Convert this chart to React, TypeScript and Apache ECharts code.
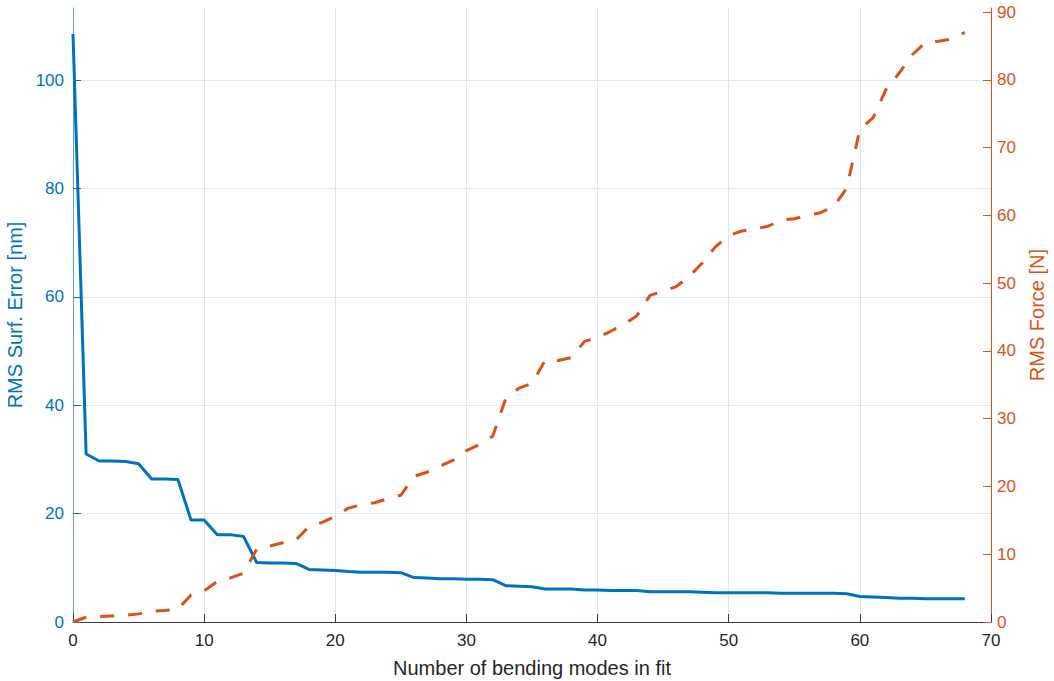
import React, { useEffect, useRef } from "react";
import * as echarts from "echarts";

const modes = [
  0, 1, 2, 3, 4, 5, 6, 7, 8, 9, 10, 11, 12, 13, 14, 15, 16, 17, 18, 19, 20,
  21, 22, 23, 24, 25, 26, 27, 28, 29, 30, 31, 32, 33, 34, 35, 36, 37, 38, 39,
  40, 41, 42, 43, 44, 45, 46, 47, 48, 49, 50, 51, 52, 53, 54, 55, 56, 57, 58,
  59, 60, 61, 62, 63, 64, 65, 66, 67, 68,
];

const rmsSurfError = [
  108.5, 31.0, 29.7, 29.7, 29.6, 29.2, 26.4, 26.4, 26.3, 18.8, 18.8, 16.1,
  16.1, 15.8, 11.0, 10.9, 10.9, 10.8, 9.7, 9.6, 9.5, 9.3, 9.2, 9.2, 9.2, 9.1,
  8.2, 8.1, 8.0, 8.0, 7.9, 7.9, 7.8, 6.7, 6.6, 6.5, 6.1, 6.1, 6.1, 5.9, 5.9,
  5.8, 5.8, 5.8, 5.6, 5.6, 5.6, 5.6, 5.5, 5.4, 5.4, 5.4, 5.4, 5.4, 5.3, 5.3,
  5.3, 5.3, 5.3, 5.2, 4.7, 4.6, 4.5, 4.4, 4.4, 4.3, 4.3, 4.3, 4.3,
];

const rmsForce = [
  0, 0.7, 0.8, 0.9, 1.0, 1.2, 1.6, 1.7, 1.9, 4.0, 4.6, 6.0, 6.5, 7.2, 10.7,
  11.2, 11.7, 12.1, 14.1, 14.7, 15.6, 16.8, 17.3, 17.6, 18.2, 18.7, 21.5, 22.1,
  23.0, 23.9, 25.3, 26.2, 27.4, 33.0, 34.5, 35.2, 38.6, 38.6, 39.0, 41.4, 42.0,
  42.9, 43.9, 45.2, 48.2, 48.8, 49.5, 51.0, 53.0, 55.4, 57.0, 57.7, 58.0, 58.4,
  59.3, 59.5, 60.0, 60.4, 61.3, 64.0, 72.7, 74.4, 78.6, 81.0, 83.7, 85.5, 85.7,
  86.0, 87.0,
];

const xTicks = [0, 10, 20, 30, 40, 50, 60, 70];
const leftTicks = [0, 20, 40, 60, 80, 100];
const rightTicks = [0, 10, 20, 30, 40, 50, 60, 70, 80, 90];

const FONT = "'Liberation Sans', Arial, Helvetica, sans-serif";
const BLUE = "#0072BD";
const ORANGE = "#D95319";

export default function App() {
  const ref = useRef<HTMLDivElement>(null);

  useEffect(() => {
    if (!ref.current) return;
    const chart = echarts.init(ref.current, null, { renderer: "svg" });
    chart.setOption({
      animation: false,
      backgroundColor: "#ffffff",
      grid: {
        left: 73,
        right: 63,
        top: 8,
        bottom: 59,
        containLabel: false,
        outerBoundsMode: "none",
      },
      xAxis: {
        type: "value",
        min: xTicks[0],
        max: xTicks[xTicks.length - 1],
        interval: 10,
        name: "Number of bending modes in fit",
        nameLocation: "middle",
        nameGap: 36,
        nameTextStyle: { color: "#262626", fontSize: 20, fontFamily: FONT },
        axisLine: { show: true, onZero: false, lineStyle: { color: "#3a3a3a", width: 1 } },
        axisTick: { show: true, inside: true, length: 8, lineStyle: { color: "#3a3a3a" } },
        axisLabel: { color: "#262626", fontSize: 17, fontFamily: FONT, margin: 10 },
        splitLine: { show: true, lineStyle: { color: "#E0E3E8", width: 1 } },
      },
      yAxis: [
        {
          type: "value",
          position: "left",
          min: 0,
          max: 113.3,
          interval: 20,
          name: "RMS Surf. Error [nm]",
          nameLocation: "middle",
          nameRotate: 90,
          nameGap: 39,
          nameTextStyle: { color: BLUE, fontSize: 20, fontFamily: FONT },
          axisLine: { show: true, lineStyle: { color: BLUE, width: 1, opacity: 0.6 } },
          axisTick: {
            show: true,
            inside: true,
            length: 8,
            customValues: leftTicks,
            lineStyle: { color: BLUE },
          },
          axisLabel: {
            color: BLUE,
            fontSize: 17,
            fontFamily: FONT,
            margin: 9,
            customValues: leftTicks,
          },
          splitLine: { show: true, lineStyle: { color: "#D9EAF5", width: 1 } },
        },
        {
          type: "value",
          position: "right",
          min: 0,
          max: 90.6,
          interval: 10,
          name: "RMS Force [N]",
          nameLocation: "middle",
          nameRotate: 90,
          nameGap: 36,
          nameTextStyle: { color: ORANGE, fontSize: 20, fontFamily: FONT },
          axisLine: { show: true, lineStyle: { color: ORANGE, width: 1 } },
          axisTick: {
            show: true,
            inside: true,
            length: 8,
            customValues: rightTicks,
            lineStyle: { color: ORANGE },
          },
          axisLabel: {
            color: ORANGE,
            fontSize: 17,
            fontFamily: FONT,
            margin: 6,
            customValues: rightTicks,
          },
          splitLine: { show: false },
        },
      ],
      series: [
        {
          type: "line",
          yAxisIndex: 0,
          data: modes.map((m, i) => [m, rmsSurfError[i]]),
          showSymbol: false,
          lineStyle: { color: BLUE, width: 3 },
          itemStyle: { color: BLUE },
          z: 3,
        },
        {
          type: "line",
          yAxisIndex: 1,
          data: modes.map((m, i) => [m, rmsForce[i]]),
          showSymbol: false,
          lineStyle: { color: ORANGE, width: 3, type: [14, 14] },
          itemStyle: { color: ORANGE },
          z: 4,
        },
      ],
    });
    return () => chart.dispose();
  }, []);

  return (
    <div
      ref={ref}
      style={{ position: "fixed", left: 0, top: 0, width: 1054, height: 681, background: "#fff" }}
    />
  );
}
